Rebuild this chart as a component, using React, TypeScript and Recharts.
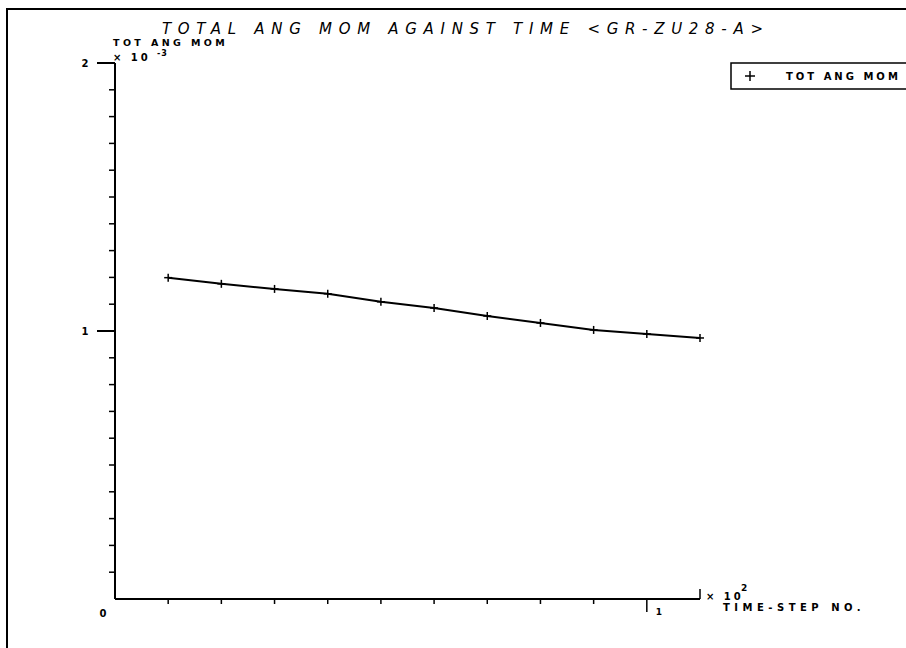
import React from 'react';
import { LineChart, Line, XAxis, YAxis, Legend } from 'recharts';

// time-step no. (x 10^2) and total angular momentum (x 10^-3)
const timeStep = [0.1, 0.2, 0.3, 0.4, 0.5, 0.6, 0.7, 0.8, 0.9, 1.0, 1.1];
const totAngMom = [1.199, 1.176, 1.157, 1.139, 1.109, 1.086, 1.056, 1.03, 1.004, 0.989, 0.974];

const xTicks = [0.1, 0.2, 0.3, 0.4, 0.5, 0.6, 0.7, 0.8, 0.9, 1.0, 1.1];
const yTicks = [0, 0.1, 0.2, 0.3, 0.4, 0.5, 0.6, 0.7, 0.8, 0.9, 1.0, 1.1, 1.2, 1.3, 1.4, 1.5, 1.6, 1.7, 1.8, 1.9, 2.0];
const xTickLabels: Record<string, string> = { '1': '1' };
const yTickLabels: Record<string, string> = { '0': '0', '1': '1', '2': '2' };

const data = timeStep.map((t, i) => ({ t, mom: totAngMom[i] }));

const FONT = '"DejaVu Sans", sans-serif';

const YTick = (props: any) => {
  const { x, y, payload } = props;
  const v = payload.value;
  const label = yTickLabels[String(v)];
  if (v === 0) {
    return (
      <text x={x - 12} y={y + 18} fontFamily={FONT} fontSize={10} fontWeight={700} textAnchor="middle" fill="#000">
        {label}
      </text>
    );
  }
  const len = label ? 18 : 6;
  return (
    <g>
      <line x1={x - len} x2={x} y1={y} y2={y} stroke="#000" strokeWidth={label ? 2 : 1.5} />
      {label && (
        <text x={x - 30} y={y + 4} fontFamily={FONT} fontSize={10} fontWeight={700} textAnchor="middle" fill="#000">
          {label}
        </text>
      )}
    </g>
  );
};

const XTick = (props: any) => {
  const { x, y, payload } = props;
  const v = payload.value;
  const label = xTickLabels[String(v)];
  if (v === 1.1) {
    return <line x1={x} x2={x} y1={y - 10} y2={y} stroke="#000" strokeWidth={1.5} />;
  }
  return (
    <g>
      <line x1={x} x2={x} y1={y} y2={y + (label ? 13 : 5)} stroke="#000" strokeWidth={1.5} />
      {label && (
        <text x={x + 12} y={y + 16} fontFamily={FONT} fontSize={9} fontWeight={700} textAnchor="middle" fill="#000">
          {label}
        </text>
      )}
    </g>
  );
};

const PlusDot = (props: any) => {
  const { cx, cy } = props;
  return (
    <g>
      <line x1={cx - 4} x2={cx + 4} y1={cy} y2={cy} stroke="#000" strokeWidth={1.5} />
      <line x1={cx} x2={cx} y1={cy - 4} y2={cy + 4} stroke="#000" strokeWidth={1.5} />
    </g>
  );
};

const LegendBox = () => (
  <svg width={180} height={28} style={{ display: 'block' }}>
    <path d="M180 1 H1 V27 H180" fill="none" stroke="#000" strokeWidth={1.5} />
    <line x1={15} x2={25} y1={14} y2={14} stroke="#000" strokeWidth={1.5} />
    <line x1={20} x2={20} y1={9} y2={19} stroke="#000" strokeWidth={1.5} />
    <text x={56} y={18} fontFamily={FONT} fontSize={10} fontWeight={700} letterSpacing={3} fill="#000">
      TOT ANG MOM
    </text>
  </svg>
);

const small = { fontFamily: FONT, fontSize: 10, fontWeight: 700, letterSpacing: 3, fill: '#000' } as const;

export default function App() {
  return (
    <div style={{ position: 'absolute', left: 0, top: 0, width: 906, height: 648, background: '#fff' }}>
      <LineChart width={906} height={648} data={data} margin={{ top: 63, right: 206, bottom: 0, left: 0 }}>
        <XAxis
          dataKey="t"
          type="number"
          domain={[0, 1.1]}
          ticks={xTicks}
          height={49}
          tickSize={0}
          tickMargin={0}
          tick={<XTick />}
          axisLine={{ stroke: '#000', strokeWidth: 2 }}
          tickLine={false}
          interval={0}
        />
        <YAxis
          type="number"
          domain={[0, 2]}
          ticks={yTicks}
          width={115}
          tickSize={0}
          tickMargin={0}
          tick={<YTick />}
          axisLine={{ stroke: '#000', strokeWidth: 2 }}
          tickLine={false}
          interval={0}
        />
        <Legend
          layout="horizontal"
          verticalAlign="middle"
          align="center"
          content={() => <LegendBox />}
          wrapperStyle={{ position: 'absolute', left: 730, top: 62, width: 180, height: 28 }}
        />
        <Line
          dataKey="mom"
          stroke="#000"
          strokeWidth={2}
          type="linear"
          dot={<PlusDot />}
          activeDot={false}
          isAnimationActive={false}
        />
      </LineChart>
      <svg width={906} height={648} style={{ position: 'absolute', left: 0, top: 0, pointerEvents: 'none' }}>
        <path d="M7 648 V9 H906" fill="none" stroke="#000" strokeWidth={2} />
        <text x={162} y={34} fontFamily={FONT} fontSize={15} fontStyle="italic" letterSpacing={6.7} fill="#000">
          TOTAL ANG MOM AGAINST TIME &lt;GR-ZU28-A&gt;
        </text>
        <text x={113} y={46} {...small} fontSize={9.5} letterSpacing={3.4}>TOT ANG MOM</text>
        <text x={113} y={61} {...small}>× 10</text>
        <text x={157} y={56} {...small} fontSize={8} letterSpacing={1}>-3</text>
        <text x={706} y={600} {...small}>× 10</text>
        <text x={741} y={591} {...small} fontSize={9}>2</text>
        <text x={723} y={611} {...small} letterSpacing={4.5}>TIME-STEP NO.</text>
      </svg>
    </div>
  );
}
